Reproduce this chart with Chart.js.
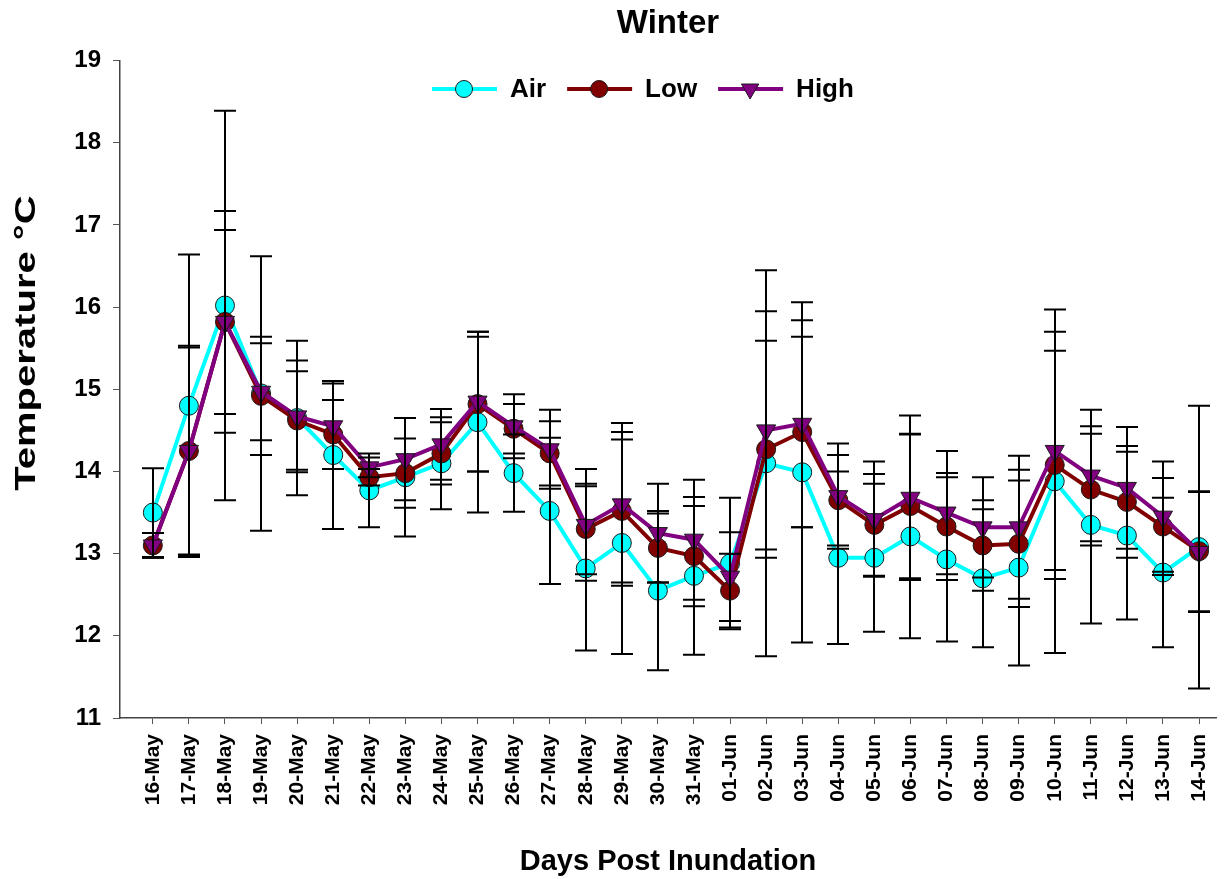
<!DOCTYPE html>
<html>
<head>
<meta charset="utf-8">
<title>Winter</title>
<script src="https://cdn.jsdelivr.net/npm/chart.js@4.4.1/dist/chart.umd.min.js"></script>
<style>
  html, body { margin: 0; padding: 0; background: #fff; }
  #wrap { width: 1228px; height: 879px; }
</style>
</head>
<body>
<div id="wrap"><canvas id="chart" width="1228" height="879"></canvas></div>
<script>
// days on the x axis
const days = ["16-May", "17-May", "18-May", "19-May", "20-May", "21-May", "22-May", "23-May",
  "24-May", "25-May", "26-May", "27-May", "28-May", "29-May", "30-May", "31-May",
  "01-Jun", "02-Jun", "03-Jun", "04-Jun", "05-Jun", "06-Jun", "07-Jun", "08-Jun",
  "09-Jun", "10-Jun", "11-Jun", "12-Jun", "13-Jun", "14-Jun"];

// mean temperatures
const air = [13.50, 14.80, 16.02, 14.95, 14.65, 14.20, 13.77, 13.93, 14.10, 14.60, 13.98, 13.52, 12.82, 13.13, 12.55,
  12.73, 12.88, 14.10, 13.99, 12.95, 12.95, 13.21, 12.93, 12.70, 12.83, 13.88, 13.35, 13.22, 12.77, 13.08];
const low = [13.10, 14.25, 15.82, 14.92, 14.62, 14.45, 13.93, 13.98, 14.22, 14.82, 14.52, 14.22, 13.30, 13.52, 13.07,
  12.97, 12.55, 14.27, 14.48, 13.65, 13.35, 13.58, 13.33, 13.10, 13.12, 14.08, 13.78, 13.63, 13.33, 13.03];
const high = [13.10, 14.25, 15.82, 14.97, 14.67, 14.55, 14.05, 14.15, 14.33, 14.85, 14.55, 14.27, 13.35, 13.60, 13.25,
  13.17, 12.72, 14.50, 14.58, 13.70, 13.42, 13.68, 13.50, 13.32, 13.32, 14.25, 13.95, 13.80, 13.45, 13.02];

// error bar half-lengths
const airErr = [0.54, 1.84, 2.37, 1.67, 0.94, 0.90, 0.45, 0.72, 0.56, 1.10, 0.47, 0.89, 1.00, 1.35, 0.97,
  0.96, 0.80, 2.35, 2.07, 1.05, 0.90, 1.24, 1.00, 0.84, 1.19, 2.09, 1.20, 1.02, 0.91, 1.72];
const lowErr = [0.15, 1.28, 1.35, 0.72, 0.60, 0.42, 0.10, 0.42, 0.38, 0.82, 0.30, 0.39, 0.55, 0.87, 0.42,
  0.61, 0.45, 1.32, 1.16, 0.55, 0.62, 0.88, 0.65, 0.55, 0.77, 1.39, 0.68, 0.68, 0.59, 0.73];
const highErr = [0.15, 1.26, 1.12, 0.59, 0.68, 0.52, 0.12, 0.50, 0.43, 0.85, 0.39, 0.48, 0.68, 0.99, 0.60,
  0.73, 0.54, 1.45, 1.26, 0.64, 0.70, 1.00, 0.75, 0.61, 0.87, 1.45, 0.80, 0.74, 0.67, 0.73];

const yTicks = [11, 12, 13, 14, 15, 16, 17, 18, 19];

const FONT = "'Liberation Sans', Arial, sans-serif";
Chart.defaults.font.family = FONT;
Chart.defaults.color = "#000";

function points(values){
    return values.map(function(v, i){ return {x: i, y: v}; });
}

const seriesErr = [airErr, lowErr, highErr];

// vertical error bars with caps, drawn over the lines
const errorBars = {
    id: "errorBars",
    afterDatasetsDraw: function(chart){
        const ctx = chart.ctx;
        const xs = chart.scales.x;
        const ys = chart.scales.y;
        ctx.save();
        ctx.strokeStyle = "#000";
        ctx.lineWidth = 2;
        chart.data.datasets.forEach(function(ds, d){
            ds.data.forEach(function(p, i){
                const e = seriesErr[d][i];
                const x = Math.round(xs.getPixelForValue(p.x));
                const top = ys.getPixelForValue(p.y + e);
                const bot = ys.getPixelForValue(p.y - e);
                ctx.beginPath();
                ctx.moveTo(x, top); ctx.lineTo(x, bot);
                ctx.moveTo(x - 11, top); ctx.lineTo(x + 11, top);
                ctx.moveTo(x - 11, bot); ctx.lineTo(x + 11, bot);
                ctx.stroke();
            });
        });
        ctx.restore();
    }
};

function drawMarker(ctx, style, x, y, r, fill){
    ctx.beginPath();
    if(style === "triangle"){
        // pointing down
        ctx.moveTo(x, y + r);
        ctx.lineTo(x - r * 0.866, y - r / 2);
        ctx.lineTo(x + r * 0.866, y - r / 2);
        ctx.closePath();
    }
    else{
        ctx.arc(x, y, r, 0, Math.PI * 2);
    }
    ctx.fillStyle = fill;
    ctx.fill();
    ctx.lineWidth = 1;
    ctx.strokeStyle = "#1a1a1a";
    ctx.stroke();
}

// legend inside the plot (line + marker + label) and the y axis title
const extras = {
    id: "extras",
    afterDraw: function(chart){
        const ctx = chart.ctx;
        ctx.save();
        ctx.font = "bold 26px " + FONT;
        ctx.textBaseline = "middle";
        let x = 432;
        const y = 89;
        chart.data.datasets.forEach(function(ds){
            ctx.strokeStyle = ds.borderColor;
            ctx.lineWidth = 4;
            ctx.beginPath();
            ctx.moveTo(x, y);
            ctx.lineTo(x + 65, y);
            ctx.stroke();
            drawMarker(ctx, ds.pointStyle, x + 32, y, ds.pointStyle === "triangle" ? 10 : 8.5, ds.pointBackgroundColor);
            ctx.fillStyle = "#000";
            ctx.textAlign = "left";
            ctx.fillText(ds.label, x + 78, y + 1);
            x = x + 78 + ctx.measureText(ds.label).width + 21;
        });

        ctx.translate(27, 343);
        ctx.rotate(-Math.PI / 2);
        ctx.scale(1.38, 1);
        ctx.font = "bold 29px " + FONT;
        ctx.textAlign = "center";
        ctx.fillStyle = "#000";
        ctx.fillText("Temperature \u00B0C", 0, 0);
        ctx.restore();
    }
};

const datasets = [
    {
        label: "Air",
        data: points(air),
        borderColor: "#00FFFF",
        pointBackgroundColor: "#00FFFF",
        pointStyle: "circle",
        pointRadius: 9.5,
        order: 3
    },
    {
        label: "Low",
        data: points(low),
        borderColor: "#800000",
        pointBackgroundColor: "#800000",
        pointStyle: "circle",
        pointRadius: 9.5,
        order: 2
    },
    {
        label: "High",
        data: points(high),
        borderColor: "#800080",
        pointBackgroundColor: "#800080",
        pointStyle: "triangle",
        pointRotation: 180,
        pointRadius: 11,
        order: 1
    }
];

datasets.forEach(function(ds){
    ds.borderWidth = 4;
    ds.pointBorderColor = "#1a1a1a";
    ds.pointBorderWidth = 1;
    ds.tension = 0;
    ds.fill = false;
});

new Chart(document.getElementById("chart"), {
    type: "line",
    data: { datasets: datasets },
    options: {
        responsive: false,
        animation: false,
        layout: { padding: { left: 0, right: 8, top: 0, bottom: 0 } },
        plugins: {
            legend: { display: false },
            tooltip: { enabled: false },
            title: {
                display: true,
                text: "Winter",
                fullSize: false,
                font: { size: 33, weight: "bold" },
                padding: { top: 4, bottom: 17 }
            }
        },
        scales: {
            x: {
                type: "linear",
                min: -0.91,
                max: 29.47,
                afterBuildTicks: function(scale){
                    scale.ticks = days.map(function(d, i){ return {value: i}; });
                },
                afterFit: function(scale){
                    scale.height = 161;
                    scale.paddingLeft = 0;
                    scale.paddingRight = 0;
                },
                ticks: {
                    autoSkip: false,
                    maxRotation: 90,
                    minRotation: 90,
                    padding: 10,
                    font: { size: 21, weight: "bold" },
                    callback: function(v){ return days[v]; }
                },
                grid: { drawOnChartArea: false, drawTicks: true, tickLength: 6, color: "#555" },
                border: { display: true, color: "#444", width: 1.5 },
                title: {
                    display: true,
                    text: "Days Post Inundation",
                    font: { size: 29, weight: "bold" },
                    padding: { top: 0, bottom: 0 }
                }
            },
            y: {
                min: 11,
                max: 19,
                afterBuildTicks: function(scale){
                    scale.ticks = yTicks.map(function(v){ return {value: v}; });
                },
                afterFit: function(scale){ scale.width = 120; },
                ticks: {
                    padding: 12,
                    font: { size: 24, weight: "bold" }
                },
                grid: { drawOnChartArea: false, drawTicks: true, tickLength: 7, color: "#555" },
                border: { display: true, color: "#444", width: 1.5 }
            }
        }
    },
    plugins: [errorBars, extras]
});
</script>
</body>
</html>
